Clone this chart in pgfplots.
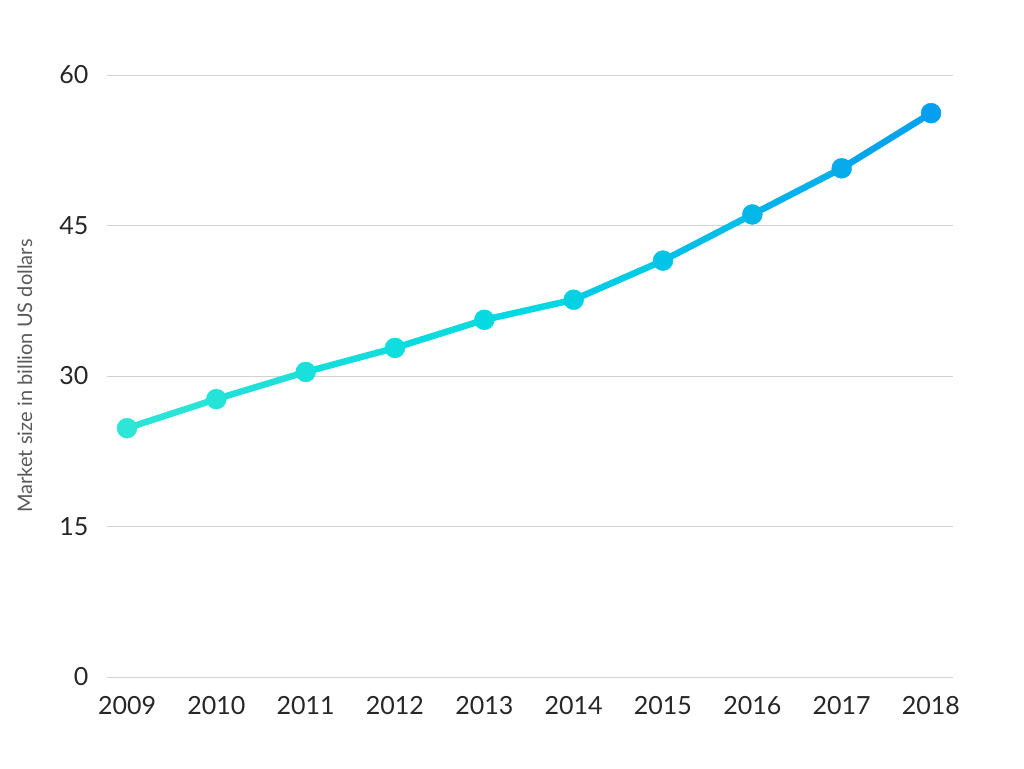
\documentclass[border=0pt]{standalone}
\usepackage{pgfplots}
\pgfplotsset{compat=1.18}
\usepackage{fontspec}
\setmainfont{Lato}
\definecolor{gridc}{RGB}{210,210,210}
\begin{document}
\begin{tikzpicture}
\begin{axis}[
  at={(0,0)}, anchor=south west,
  scale only axis, width=846pt, height=602pt,
  xmin=2008.776, xmax=2018.246, ymin=0, ymax=60,
  axis line style={draw=none},
  major tick length=0pt,
  ytick={0,15,30,45,60},
  xtick={2009,...,2018},
  ymajorgrids, grid style={gridc, line width=0.8pt},
  /pgf/number format/assume math mode=true,
  xticklabel={\pgfmathprintnumber[precision=0,1000 sep={}]{\tick}},
  yticklabel style={font=\fontsize{25}{29}\selectfont, text=black!85, xshift=-15pt},
  xticklabel style={font=\fontsize{25}{29}\selectfont, text=black!85, yshift=-16pt},
  ylabel={Market size in billion US dollars},
  ylabel style={font=\fontsize{20}{24}\selectfont, text=black!65, at={(axis description cs:-0.097,0.5)}, anchor=center},
  colormap={teal}{rgb255=(46,230,214) rgb255=(0,216,226) rgb255=(6,158,238)},
  point meta min=2009, point meta max=2018,
  clip=false,
]
\addplot[mesh, point meta=x, line width=6.5pt, line cap=round] coordinates {
(2009,24.8) (2010,27.7) (2011,30.4) (2012,32.8) (2013,35.6) (2014,37.6) (2015,41.5) (2016,46.1) (2017,50.7) (2018,56.2)};
\addplot[scatter, only marks, point meta=x, mark=*, mark size=10pt,
  scatter/use mapped color={draw=mapped color, fill=mapped color}] coordinates {
(2009,24.8) (2010,27.7) (2011,30.4) (2012,32.8) (2013,35.6) (2014,37.6) (2015,41.5) (2016,46.1) (2017,50.7) (2018,56.2)};
\end{axis}
\path[use as bounding box] (-107pt,-91pt) rectangle (917pt,677pt);
\end{tikzpicture}
\end{document}
